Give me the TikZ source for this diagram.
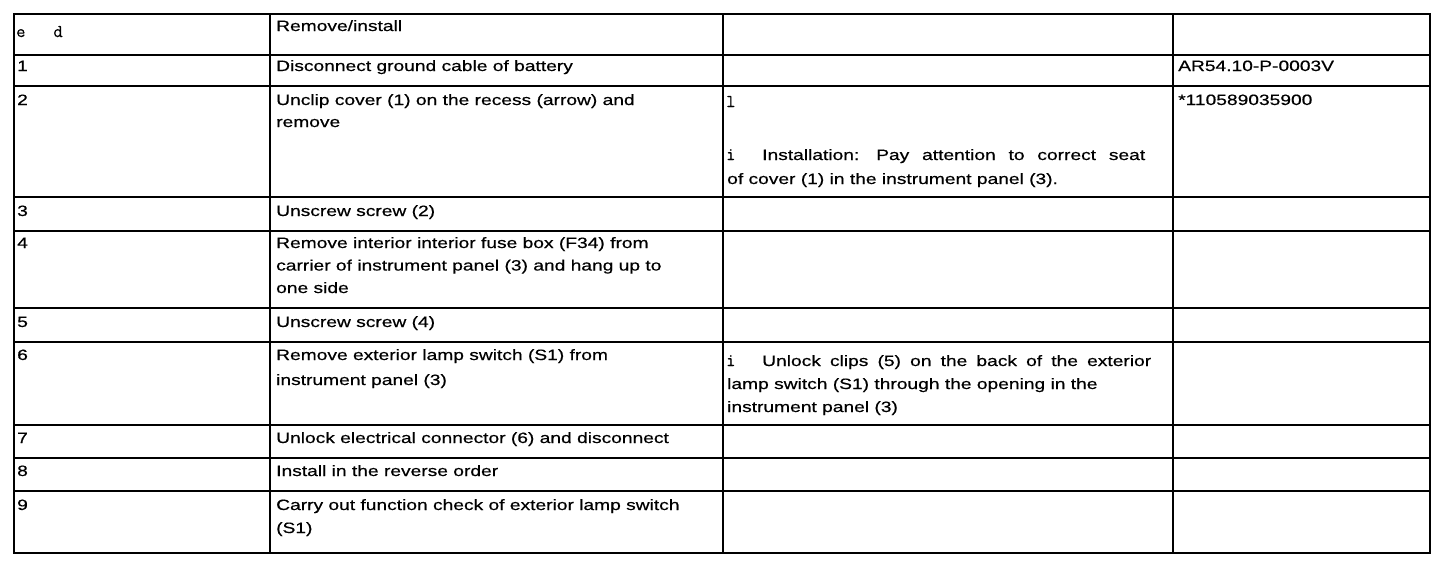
\documentclass[tikz,border=0pt]{standalone}
\usepackage{fontspec}
\setmainfont{Liberation Sans}[FakeStretch=1.28,FakeBold=0.5]
\newfontfamily\monof{Latin Modern Mono}[FakeBold=0.4]
\begin{document}
\begin{tikzpicture}[x=1pt,y=-1pt,
  txt/.style={anchor=base west,inner sep=0pt,font=\fontsize{15}{18}\selectfont},
  mono/.style={anchor=base west,inner sep=0pt,font=\fontsize{18}{20}\selectfont\monof},
  grid/.style={line width=1.2pt,black},
  heavy/.style={line width=2pt,black}]
\useasboundingbox[fill=white] (0,0) rectangle (1456,562);
% grid
\draw[grid] (14,14) rectangle (1430,553);
\foreach \y in {55,86,197,231,308,458}{\draw[grid] (14,\y) -- (1430,\y);}
\foreach \y in {342,425,491}{\draw[heavy] (14,\y) -- (1430,\y);}
\foreach \x in {270,723,1173}{\draw[grid] (\x,14) -- (\x,553);}
\draw[heavy] (1430,14) -- (1430,553);
% header
\node[mono] (h1) at (16,37) {e\hspace{28pt}d};
\node[txt] (h2) at (276,31) {Remove/install};
% row 1
\node[txt] (n1) at (17,71) {1};
\node[txt] (t1) at (276,71) {Disconnect ground cable of battery};
\node[txt] (r1) at (1178,71) {AR54.10-P-0003V};
% row 2
\node[txt] (n2) at (17,105) {2};
\node[txt] (t2a) at (276,105) {Unclip cover (1) on the recess (arrow) and};
\node[txt] (t2b) at (276,127) {remove};
\node[mono] (c2a) at (726,107) {l};
\node[mono] (c2i) at (726,160) {i};
\node[txt] (c2b) at (762,160) {Installation:};
\node[txt] (c2c) at (876,160) {\makebox[269pt][s]{Pay attention to correct seat}};
\node[txt] (c2d) at (727,184) {of cover (1) in the instrument panel (3).};
\node[txt] (r2) at (1178,105) {*110589035900};
% row 3
\node[txt] (n3) at (17,216) {3};
\node[txt] (t3) at (276,216) {Unscrew screw (2)};
% row 4
\node[txt] (n4) at (17,248) {4};
\node[txt] (t4a) at (276,248) {Remove interior interior fuse box (F34) from};
\node[txt] (t4b) at (276,270.5) {carrier of instrument panel (3) and hang up to};
\node[txt] (t4c) at (276,293) {one side};
% row 5
\node[txt] (n5) at (17,327) {5};
\node[txt] (t5) at (276,327) {Unscrew screw (4)};
% row 6
\node[txt] (n6) at (17,360) {6};
\node[txt] (t6a) at (276,360) {Remove exterior lamp switch (S1) from};
\node[txt] (t6b) at (276,385) {instrument panel (3)};
\node[mono] (c6i) at (726,366) {i};
\node[txt] (c6a) at (762,366) {\makebox[389pt][s]{Unlock clips (5) on the back of the exterior}};
\node[txt] (c6b) at (727,389) {lamp switch (S1) through the opening in the};
\node[txt] (c6c) at (727,412) {instrument panel (3)};
% row 7
\node[txt] (n7) at (17,443) {7};
\node[txt] (t7) at (276,443) {Unlock electrical connector (6) and disconnect};
% row 8
\node[txt] (n8) at (17,476) {8};
\node[txt] (t8) at (276,476) {Install in the reverse order};
% row 9
\node[txt] (n9) at (17,510) {9};
\node[txt] (t9a) at (276,510) {Carry out function check of exterior lamp switch};
\node[txt] (t9b) at (276,533) {(S1)};
\end{tikzpicture}
\end{document}
